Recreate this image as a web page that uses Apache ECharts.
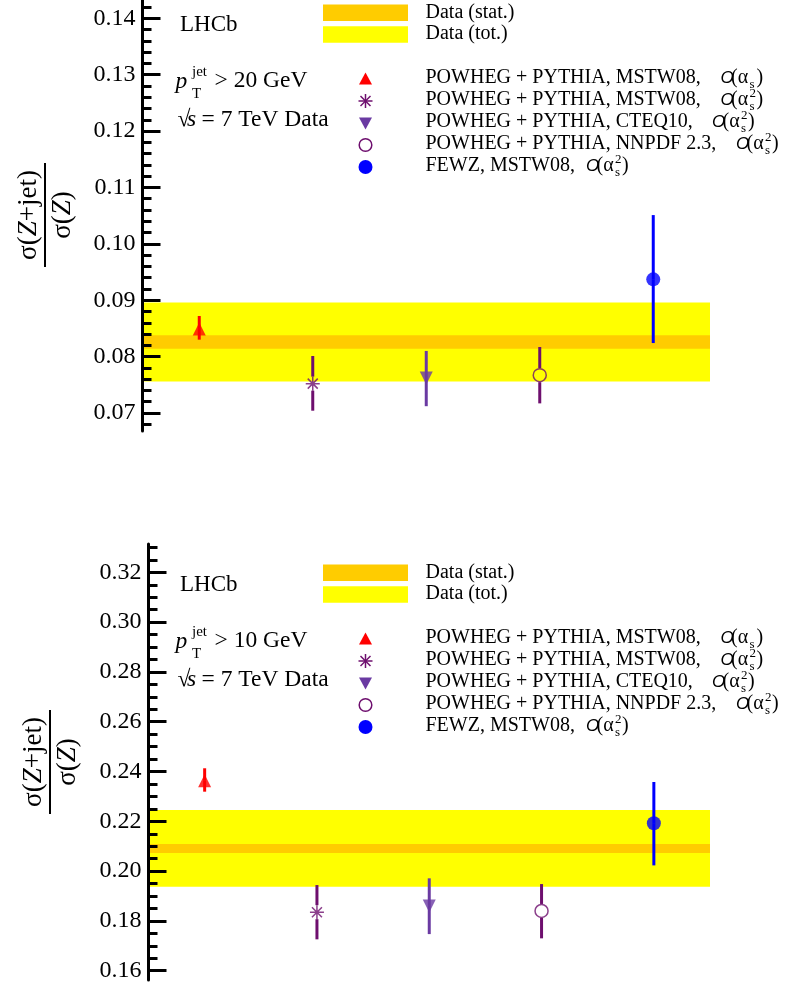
<!DOCTYPE html>
<html><head><meta charset="utf-8">
<script src="https://cdn.jsdelivr.net/npm/echarts@6/dist/echarts.min.js"></script>
<style>html,body{margin:0;padding:0;background:#fff}#c{width:788px;height:989px}</style>
</head><body><div id="c"></div>
<script>
// ---------- data ----------
const modelNames = ['POWHEG + PYTHIA, MSTW08,', 'POWHEG + PYTHIA, MSTW08,', 'POWHEG + PYTHIA, CTEQ10,', 'POWHEG + PYTHIA, NNPDF 2.3,', 'FEWZ, MSTW08,'];
const modelOrderSup = ['', '2', '2', '2', '2'];   // O(alpha_s) or O(alpha_s^2)
const modelPos = [1, 2, 3, 4, 5];

// panel 1: pT(jet) > 20 GeV
const p20Val = [0.0849, 0.0752, 0.0762, 0.0767, 0.0937];
const p20Lo  = [0.0830, 0.0704, 0.0712, 0.0717, 0.0824];
const p20Hi  = [0.0872, 0.0801, 0.0810, 0.0817, 0.1051];
const p20Data = 0.0826, p20Stat = 0.0012, p20Tot = 0.0070;
const p20Ticks = ['0.07', '0.08', '0.09', '0.10', '0.11', '0.12', '0.13', '0.14'];

// panel 2: pT(jet) > 10 GeV
const p10Val = [0.2363, 0.1835, 0.1860, 0.1840, 0.2192];
const p10Lo  = [0.2319, 0.1726, 0.1747, 0.1730, 0.2023];
const p10Hi  = [0.2413, 0.1944, 0.1971, 0.1948, 0.2358];
const p10Data = 0.2091, p10Stat = 0.0018, p10Tot = 0.0154;
const p10Ticks = ['0.16', '0.18', '0.20', '0.22', '0.24', '0.26', '0.28', '0.30', '0.32'];

// ---------- styles ----------
const colRed = '#ff0000', colPurple = '#6e0f6e', colViolet = '#6a3aa2', colBlue = '#0000ff';
const modelColors = [colRed, colPurple, colViolet, colPurple, colBlue];
const barGap = [0, 7, 0, 7, 0];
const YEL = '#ffff00', ORA = '#ffcc00';
const SERIF = '"Liberation Serif", "DejaVu Serif", serif';
const SANS = '"Liberation Sans", "DejaVu Sans", sans-serif';

const chart = echarts.init(document.getElementById('c'), null, {renderer: 'canvas', width: 788, height: 989});

const panels = [
  {grid: {left: 142.5, top: 0, width: 567.5, height: 431}, min: 0.0668, max: 0.14325,
   ticks: p20Ticks, nSub: 5, val: p20Val, lo: p20Lo, hi: p20Hi, data: p20Data, stat: p20Stat, tot: p20Tot, dy: 0, cut: '20'},
  {grid: {left: 148.5, top: 544, width: 561.5, height: 436}, min: 0.15627, max: 0.33137,
   ticks: p10Ticks, nSub: 4, val: p10Val, lo: p10Lo, hi: p10Hi, data: p10Data, stat: p10Stat, tot: p10Tot, dy: 560, cut: '10'}
];

const grids = [], xAxes = [], yAxes = [], series = [], graphics = [];

panels.forEach((P, gi) => {
  grids.push(Object.assign({containLabel: false, outerBoundsMode: 'none', show: false}, P.grid));
  xAxes.push({type: 'value', gridIndex: gi, min: 0.5, max: 5.5, show: false});
  const major = P.ticks.map(Number);
  const step = (major[1] - major[0]) / P.nSub;
  const minor = [];
  for (let k = -20; k < 200; k++) {
    const v = +(major[0] + k * step).toFixed(5);
    if (v < P.min - 1e-9 || v > P.max + 1e-9) continue;
    if (major.some(m => Math.abs(m - v) < 1e-7)) continue;
    minor.push(v);
  }
  yAxes.push({
    type: 'value', gridIndex: gi, min: P.min, max: P.max, position: 'left', z: 5,
    axisLine: {show: true, onZero: false, lineStyle: {color: '#000', width: 3}},
    axisTick: {show: true, inside: true, length: 18, lineStyle: {color: '#000', width: 3}, customValues: major},
    axisLabel: {show: true, customValues: major, margin: 7, color: '#000', fontFamily: SERIF, fontSize: 24,
      formatter: v => { const i = major.findIndex(m => Math.abs(m - v) < 1e-7); return i >= 0 ? P.ticks[i] : ''; }},
    splitLine: {show: false}
  });
  yAxes.push({
    type: 'value', gridIndex: gi, min: P.min, max: P.max, position: 'left', z: 5,
    axisLine: {show: false},
    axisTick: {show: true, inside: true, length: 9, lineStyle: {color: '#000', width: 3}, customValues: minor},
    axisLabel: {show: false},
    splitLine: {show: false}
  });
  const yMain = gi * 2;
  // data bands
  series.push({
    type: 'custom', xAxisIndex: gi, yAxisIndex: yMain, z: 1, silent: true,
    data: [[P.data - P.tot, P.data + P.tot, 0], [P.data - P.stat, P.data + P.stat, 1]],
    renderItem: (params, api) => {
      const a = api.coord([0.5, api.value(1)]);
      const b = api.coord([5.5, api.value(0)]);
      return {type: 'rect', shape: {x: a[0] + 1.5, y: a[1], width: b[0] - a[0] - 1.5, height: b[1] - a[1]},
        style: {fill: api.value(2) === 0 ? YEL : ORA}};
    }
  });
  // error bars
  series.push({
    type: 'custom', xAxisIndex: gi, yAxisIndex: yMain, z: 3, silent: true,
    data: modelPos.map((x, i) => [x, P.lo[i], P.hi[i], P.val[i], i]),
    renderItem: (params, api) => {
      const i = api.value(4);
      const top = api.coord([api.value(0), api.value(2)]);
      const bot = api.coord([api.value(0), api.value(1)]);
      const mid = api.coord([api.value(0), api.value(3)]);
      const g = barGap[i];
      const st = {stroke: modelColors[i], lineWidth: 3};
      return {type: 'group', children: [
        {type: 'line', shape: {x1: top[0], y1: top[1], x2: mid[0], y2: mid[1] - g}, style: st},
        {type: 'line', shape: {x1: mid[0], y1: mid[1] + g, x2: bot[0], y2: bot[1]}, style: st}
      ]};
    }
  });
  // markers
  const symDefs = [
    {symbol: 'triangle', symbolSize: 13, itemStyle: {color: colRed}},
    {symbol: 'path://M7,0L7,14M0,7L14,7M2,2L12,12M2,12L12,2', symbolSize: 14, itemStyle: {color: 'transparent', borderColor: colPurple, borderWidth: 1.5}},
    {symbol: 'triangle', symbolRotate: 180, symbolSize: 13, itemStyle: {color: colViolet}},
    {symbol: 'circle', symbolSize: 13, itemStyle: {color: 'transparent', borderColor: colPurple, borderWidth: 1.5}},
    {symbol: 'circle', symbolSize: 14, itemStyle: {color: colBlue}}
  ];
  symDefs.forEach((sd, i) => {
    series.push(Object.assign({type: 'scatter', xAxisIndex: gi, yAxisIndex: yMain, z: 4, silent: true,
      data: [[modelPos[i], P.val[i]]]}, sd));
  });

  // ---------- texts ----------
  const dy = P.dy;
  graphics.push({type: 'text', x: 180, y: 25 + dy, style: {text: 'LHCb', fontFamily: SERIF, fontSize: 23, fill: '#000', align: 'left', verticalAlign: 'middle'}});
  graphics.push({type: 'text', x: 175.5, y: 82 + dy, style: {text: 'p', fontFamily: SERIF, fontStyle: 'italic', fontSize: 23.5, fill: '#000', align: 'left', verticalAlign: 'middle'}});
  graphics.push({type: 'text', x: 192, y: 72.5 + dy, style: {text: 'jet', fontFamily: SERIF, fontSize: 15, fill: '#000', align: 'left', verticalAlign: 'middle'}});
  graphics.push({type: 'text', x: 192, y: 94 + dy, style: {text: 'T', fontFamily: SERIF, fontSize: 15, fill: '#000', align: 'left', verticalAlign: 'middle'}});
  graphics.push({type: 'text', x: 214.5, y: 81 + dy, style: {text: '> ' + P.cut + ' GeV', fontFamily: SERIF, fontSize: 23.5, fill: '#000', align: 'left', verticalAlign: 'middle'}});
  graphics.push({type: 'text', x: 177.5, y: 120 + dy, style: {text: '√', fontFamily: SERIF, fontSize: 23.5, fill: '#000', align: 'left', verticalAlign: 'middle'}});
  graphics.push({type: 'text', x: 187, y: 120 + dy, style: {text: 's', fontFamily: SERIF, fontStyle: 'italic', fontSize: 23.5, fill: '#000', align: 'left', verticalAlign: 'middle'}});
  graphics.push({type: 'text', x: 201.5, y: 120 + dy, style: {text: '= 7 TeV Data', fontFamily: SERIF, fontSize: 23.5, fill: '#000', align: 'left', verticalAlign: 'middle'}});

  // data legend swatches
  graphics.push({type: 'rect', shape: {x: 323, y: 4.5 + dy, width: 85, height: 16.5}, style: {fill: ORA}});
  graphics.push({type: 'rect', shape: {x: 323, y: 26.3 + dy, width: 85, height: 16.5}, style: {fill: YEL}});
  graphics.push({type: 'text', x: 425.5, y: 12.5 + dy, style: {text: 'Data (stat.)', fontFamily: SERIF, fontSize: 20, fill: '#000', align: 'left', verticalAlign: 'middle'}});
  graphics.push({type: 'text', x: 425.5, y: 34 + dy, style: {text: 'Data (tot.)', fontFamily: SERIF, fontSize: 20, fill: '#000', align: 'left', verticalAlign: 'middle'}});

  // model legend
  const rowY = [79, 101, 123, 145, 167];
  const oX = [720.5, 720.5, 712, 736, 586];
  const mx = 365.5;
  rowY.forEach((ry, i) => {
    const y = ry + dy;
    // marker
    if (i === 0) graphics.push({type: 'polygon', shape: {points: [[mx, y - 6.5], [mx + 6.5, y + 5.5], [mx - 6.5, y + 5.5]]}, style: {fill: colRed}});
    if (i === 1) {
      [[0, -7, 0, 7], [-7, 0, 7, 0], [-5, -5, 5, 5], [-5, 5, 5, -5]].forEach(s => graphics.push({type: 'line',
        shape: {x1: mx + s[0], y1: y + s[1], x2: mx + s[2], y2: y + s[3]}, style: {stroke: colPurple, lineWidth: 1.5}}));
    }
    if (i === 2) graphics.push({type: 'polygon', shape: {points: [[mx - 6.5, y - 5.5], [mx + 6.5, y - 5.5], [mx, y + 6.5]]}, style: {fill: colViolet}});
    if (i === 3) graphics.push({type: 'circle', shape: {cx: mx, cy: y, r: 6.3}, style: {fill: 'none', stroke: colPurple, lineWidth: 1.5}});
    if (i === 4) graphics.push({type: 'circle', shape: {cx: mx, cy: y, r: 7}, style: {fill: colBlue}});
    // label
    const ty = y - 1;
    graphics.push({type: 'text', x: 425.5, y: ty, style: {text: modelNames[i], fontFamily: SERIF, fontSize: 20, fill: '#000', align: 'left', verticalAlign: 'middle'}});
    const ox = oX[i];
    graphics.push({type: 'text', x: ox, y: ty, style: {text: 'O', fontFamily: SANS, fontStyle: 'italic', fontSize: 17, fill: '#000', align: 'left', verticalAlign: 'middle'}});
    graphics.push({type: 'text', x: ox + 10.5, y: ty, style: {text: '(α', fontFamily: SERIF, fontSize: 20, fill: '#000', align: 'left', verticalAlign: 'middle'}});
    graphics.push({type: 'text', x: ox + 29, y: ty + 7, style: {text: 's', fontFamily: SERIF, fontSize: 13, fill: '#000', align: 'left', verticalAlign: 'middle'}});
    if (modelOrderSup[i]) graphics.push({type: 'text', x: ox + 29, y: ty - 6, style: {text: modelOrderSup[i], fontFamily: SERIF, fontSize: 13, fill: '#000', align: 'left', verticalAlign: 'middle'}});
    graphics.push({type: 'text', x: ox + (modelOrderSup[i] ? 36 : 36), y: ty, style: {text: ')', fontFamily: SERIF, fontSize: 20, fill: '#000', align: 'left', verticalAlign: 'middle'}});
  });

  // y axis title fraction
  const lineX = gi === 0 ? 45 : 50;
  const cy = gi === 0 ? 215 : 762;
  graphics.push({type: 'line', shape: {x1: lineX, y1: cy - 52, x2: lineX, y2: cy + 52}, style: {stroke: '#000', lineWidth: 2}});
  const richSt = {a: {fontFamily: SERIF, fontSize: 27, fill: '#000'}, z: {fontFamily: SERIF, fontStyle: 'italic', fontSize: 27, fill: '#000'}};
  graphics.push({type: 'text', x: lineX - 16, y: cy, rotation: Math.PI / 2,
    style: {text: '{a|σ(}{z|Z}{a|+jet)}', rich: richSt, align: 'center', verticalAlign: 'middle'}});
  graphics.push({type: 'text', x: lineX + 18, y: cy, rotation: Math.PI / 2,
    style: {text: '{a|σ(}{z|Z}{a|)}', rich: richSt, align: 'center', verticalAlign: 'middle'}});
});

chart.setOption({
  animation: false,
  backgroundColor: '#fff',
  grid: grids, xAxis: xAxes, yAxis: yAxes, series: series,
  graphic: {elements: graphics}
});
</script></body></html>
